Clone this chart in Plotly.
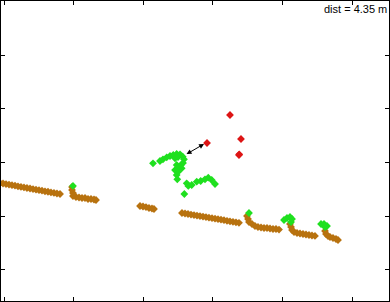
import plotly.graph_objects as go

# ---- data (x, y in axis units; ticks at integer values) ----
brown_x = [-0.057, -0.014, 0.029, 0.072, 0.115, 0.158, 0.201, 0.244, 0.287, 0.330,
           0.374, 0.417, 0.460, 0.503, 0.546, 0.589, 0.632, 0.675, 0.718, 0.761, 0.805,
           0.977, 0.977, 0.991, 0.991, 1.034, 1.078, 1.121, 1.164, 1.207, 1.250, 1.293, 1.322,
           1.954, 1.997, 2.040, 2.083, 2.126, 2.155,
           2.557, 2.601, 2.644, 2.687, 2.730, 2.773, 2.816, 2.859, 2.902, 2.945,
           2.989, 3.032, 3.075, 3.118, 3.161, 3.204, 3.247, 3.290, 3.333, 3.376,
           3.491, 3.506, 3.520, 3.563, 3.606, 3.649, 3.693, 3.736, 3.779, 3.822, 3.865, 3.908, 3.951,
           4.109, 4.124, 4.138, 4.167, 4.210, 4.253, 4.296, 4.339, 4.382, 4.425, 4.468,
           4.612, 4.626, 4.655, 4.684, 4.727, 4.770, 4.799]
brown_y = [1.616, 1.607, 1.596, 1.587, 1.575, 1.566, 1.555, 1.544, 1.534, 1.523,
           1.514, 1.503, 1.493, 1.482, 1.473, 1.462, 1.453, 1.441, 1.432, 1.421, 1.412,
           1.542, 1.486, 1.430, 1.374, 1.356, 1.346, 1.337, 1.337, 1.318, 1.318, 1.309, 1.300,
           1.188, 1.179, 1.169, 1.151, 1.142, 1.132,
           1.058, 1.048, 1.039, 1.028, 1.019, 1.009, 1.000, 0.991, 0.981, 0.970,
           0.961, 0.952, 0.942, 0.933, 0.924, 0.912, 0.903, 0.894, 0.885, 0.875,
           1.002, 0.946, 0.890, 0.853, 0.816, 0.797, 0.788, 0.778, 0.778, 0.769, 0.760, 0.760, 0.750,
           0.853, 0.797, 0.741, 0.704, 0.685, 0.676, 0.667, 0.657, 0.648, 0.639, 0.630,
           0.723, 0.667, 0.629, 0.611, 0.592, 0.574, 0.555]

green_x = [0.991, 2.591, 3.520,
           4.023, 4.066, 4.109, 4.138, 4.124,
           4.555, 4.598, 4.641, 4.612,
           2.141, 2.241, 2.284, 2.338, 2.385, 2.432, 2.481, 2.529, 2.568, 2.586,
           2.457, 2.481, 2.519, 2.457, 2.553, 2.481, 2.490, 2.504,
           2.500, 2.543, 2.490, 2.572,
           2.625, 2.648, 2.697, 2.769, 2.826, 2.888, 2.935, 2.984, 3.032]
green_y = [1.561, 1.412, 1.058,
           0.927, 0.965, 0.983, 0.946, 0.890,
           0.853, 0.853, 0.816, 0.797,
           1.983, 2.026, 2.058, 2.095, 2.119, 2.138, 2.156, 2.151, 2.106, 2.058,
           2.076, 1.952, 1.920, 1.858, 1.890, 1.765, 1.685, 1.827,
           2.100, 1.950, 1.890, 1.990,
           1.611, 1.561, 1.579, 1.641, 1.654, 1.685, 1.715, 1.672, 1.598]

red_x = [3.247, 3.405, 3.376, 3.380, 2.917]
red_y = [2.883, 2.436, 2.138, 2.150, 2.361]

arrow_start = (2.601, 2.138)
arrow_end = (2.874, 2.343)
dist_label = "dist = 4.35 m"

x_ticks = [0, 1, 2, 3, 4, 5]
y_ticks = [0, 1, 2, 3, 4, 5]

fig = go.Figure()
fig.add_trace(go.Scatter(x=brown_x, y=brown_y, mode="markers",
                         marker=dict(symbol="diamond", size=6, color="#b8720f", line=dict(width=0))))
fig.add_trace(go.Scatter(x=green_x, y=green_y, mode="markers",
                         marker=dict(symbol="diamond", size=6, color="#1fe01f", line=dict(width=0))))
fig.add_trace(go.Scatter(x=red_x, y=red_y, mode="markers",
                         marker=dict(symbol="diamond", size=6, color="#dd1515", line=dict(width=0))))

fig.add_annotation(x=arrow_end[0], y=arrow_end[1], ax=arrow_start[0], ay=arrow_start[1],
                   xref="x", yref="y", axref="x", ayref="y", text="",
                   showarrow=True, arrowhead=2, startarrowhead=2, arrowside="end+start",
                   arrowsize=1, arrowwidth=1, arrowcolor="black", startarrowsize=1)

fig.add_annotation(x=1, y=1, xref="paper", yref="paper", xanchor="right", yanchor="top",
                   text=dist_label, showarrow=False,
                   font=dict(family="Liberation Sans, Arial", size=11, color="black"))

axis_common = dict(showgrid=False, zeroline=False, showline=True, linecolor="black", linewidth=1,
                   mirror="ticks", ticks="inside", ticklen=4, tickcolor="black", tickwidth=1,
                   showticklabels=False)
fig.update_xaxes(range=[-0.0431, 5.5316], tickvals=x_ticks, **axis_common)
fig.update_yaxes(range=[-0.581, 5.0056], tickvals=y_ticks, **axis_common)

fig.update_layout(width=390, height=302, margin=dict(l=1, r=1, t=1, b=1),
                  paper_bgcolor="white", plot_bgcolor="white", showlegend=False)

fig.write_html("out.html")
